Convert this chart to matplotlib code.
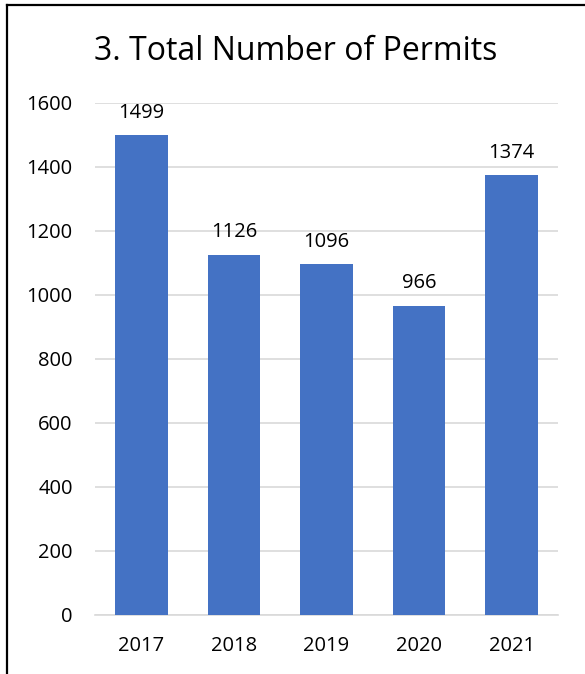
import matplotlib
matplotlib.use('Agg')
import matplotlib.pyplot as plt
from matplotlib.lines import Line2D

plt.rcParams['font.family'] = ['Open Sans', 'DejaVu Sans']

years = ['2017', '2018', '2019', '2020', '2021']
permits = [1499, 1126, 1096, 966, 1374]
yticks = [0, 200, 400, 600, 800, 1000, 1200, 1400, 1600]

W, H = 585, 674
fig = plt.figure(figsize=(W / 100, H / 100), dpi=100)
ax = fig.add_axes([95 / W, 1 - 615 / H, (558 - 95) / W, (615 - 103) / H])

bars = ax.bar(range(len(years)), permits, width=0.57, color='#4472C4', zorder=3)
for i, v in enumerate(permits):
    ax.annotate(str(v), (i, v), xytext=(0, 9), textcoords='offset points',
                ha='center', va='bottom', fontsize=14.5, color='#000000')

ax.set_xlim(-0.5, len(years) - 0.5)
ax.set_ylim(0, 1600)
ax.set_yticks(yticks)
ax.set_xticks(range(len(years)))
ax.set_xticklabels(years)
ax.yaxis.grid(True, color='#d9d9d9', linewidth=1.2, zorder=0)
for s in ['top', 'right', 'left']:
    ax.spines[s].set_visible(False)
ax.spines['bottom'].set_color('#d9d9d9')
ax.spines['bottom'].set_linewidth(1.2)
ax.tick_params(axis='both', length=0, labelsize=14.5, colors='#000000')
ax.tick_params(axis='y', pad=16)
ax.tick_params(axis='x', pad=15)

fig.text(296 / W, 1 - 51 / H, '3. Total Number of Permits', ha='center', va='center',
         fontsize=23)

# frame lines (left and top)
fig.add_artist(Line2D([7 / W, 7 / W], [0, 1 - 5 / H], color='black', linewidth=1.6,
                      transform=fig.transFigure))
fig.add_artist(Line2D([7 / W, 1], [1 - 5 / H, 1 - 5 / H], color='black', linewidth=1.6,
                      transform=fig.transFigure))

fig.savefig('out.png', dpi=100)
